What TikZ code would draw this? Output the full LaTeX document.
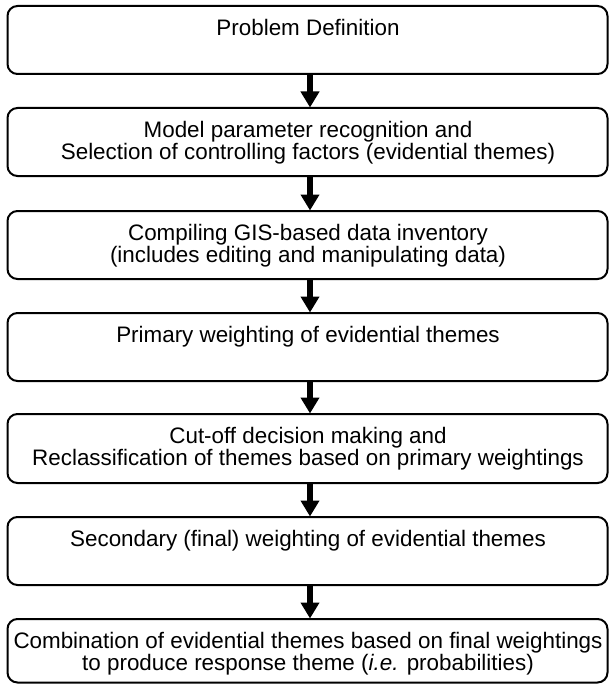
\documentclass[tikz,border=0pt]{standalone}
\usepackage{fontspec}
\setmainfont{Liberation Sans}
\usetikzlibrary{arrows.meta}
\begin{document}
\begin{tikzpicture}[x=1bp,y=-1bp,
  stepbox/.style={draw=black,line width=2bp,rounded corners=10bp,fill=white},
  steptext/.style={anchor=north,align=center,font=\fontsize{22.4bp}{22.5bp}\selectfont,inner sep=0pt},
  flow/.style={-{Triangle[width=18bp,length=16bp]},line width=6bp,shorten >=0.5bp}]
\useasboundingbox (0,0) rectangle (609,684);
% boxes
\foreach \i/\t/\b in {1/6/74,2/108/176,3/211/279,4/313/381,5/414/483,6/517/585,7/619/682.5}{
  \draw[stepbox] (7.5,\t) rectangle (607.5,\b);
}
\coordinate (b1) at (310,74);   \coordinate (t2) at (310,108);
\coordinate (b2) at (310,176);  \coordinate (t3) at (310,211);
\coordinate (b3) at (310,279);  \coordinate (t4) at (310,313);
\coordinate (b4) at (310,381);  \coordinate (t5) at (310,414);
\coordinate (b5) at (310,483);  \coordinate (t6) at (310,517);
\coordinate (b6) at (310,585);  \coordinate (t7) at (310,619);
\node[steptext] (n1) at (308,19) {Problem Definition};
\node[steptext] (n2) at (308,121) {Model parameter recognition and\\Selection of controlling factors (evidential themes)};
\node[steptext] (n3) at (308,224) {Compiling GIS-based data inventory\\(includes editing and manipulating data)};
\node[steptext] (n4) at (308,326) {Primary weighting of evidential themes};
\node[steptext] (n5) at (308,427) {Cut-off decision making and\\Reclassification of themes based on primary weightings};
\node[steptext] (n6) at (308,530) {Secondary (final) weighting of evidential themes};
\node[steptext] (n7) at (308,632) {Combination of evidential themes based on final weightings\\to produce response theme (\textit{i.e.} probabilities)};
\foreach \a/\b in {b1/t2,b2/t3,b3/t4,b4/t5,b5/t6,b6/t7}{
  \draw[flow] (\a) -- (\b);
}
\end{tikzpicture}
\end{document}
